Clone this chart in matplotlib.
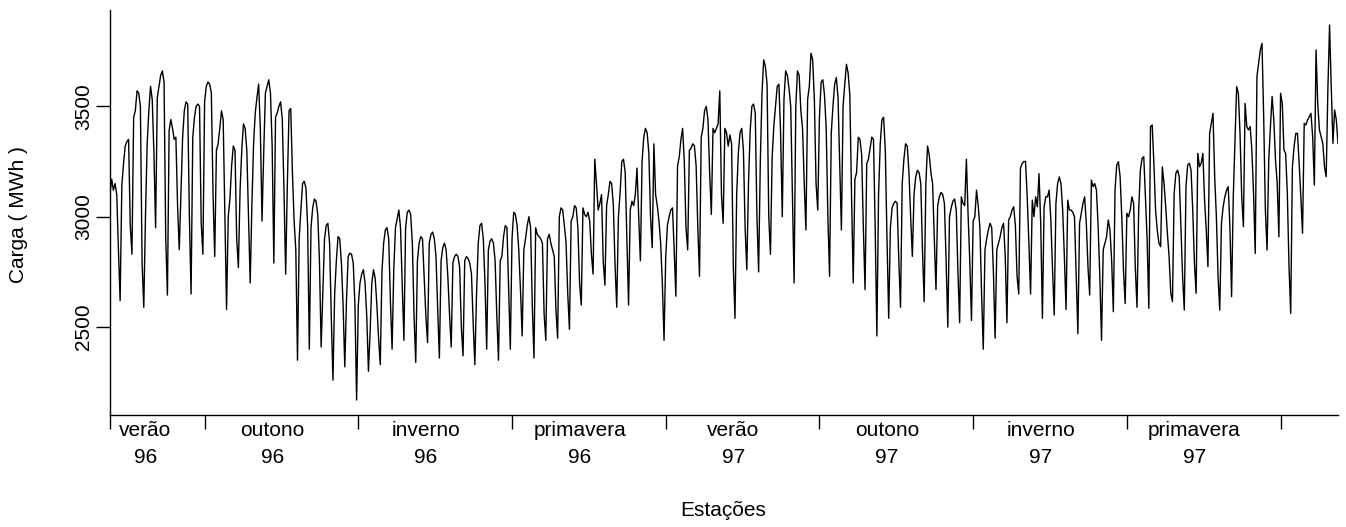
import matplotlib
matplotlib.use("Agg")
import matplotlib.pyplot as plt
import numpy as np

plt.rcParams['font.family'] = ['Liberation Sans', 'DejaVu Sans']

# Daily load (MWh), one row per week (Mon..Sun), 13 weeks per block
semanas_01_13 = [
    3110, 3170, 3120, 3150, 3100, 2850, 2620,
    3140, 3240, 3320, 3340, 3350, 2960, 2830,
    3450, 3480, 3570, 3560, 3500, 2790, 2590,
    3000, 3330, 3480, 3590, 3530, 3290, 2950,
    3540, 3590, 3640, 3660, 3610, 2900, 2645,
    3390, 3440, 3400, 3350, 3360, 3050, 2850,
    3100, 3360, 3480, 3520, 3510, 3000, 2650,
    3360, 3450, 3500, 3510, 3500, 2970, 2830,
    3520, 3590, 3610, 3600, 3560, 3100, 2820,
    3300, 3330, 3400, 3480, 3440, 3000, 2580,
    3000, 3080, 3230, 3320, 3300, 2900, 2770,
    3120, 3300, 3420, 3400, 3300, 3000, 2700,
    3050, 3330, 3470, 3540, 3600, 3400, 2980,
]
semanas_14_26 = [
    3290, 3560, 3590, 3620, 3560, 3320, 2790,
    3450, 3470, 3500, 3520, 3440, 3120, 2740,
    3150, 3480, 3490, 3200, 2980, 2850, 2350,
    2900, 3030, 3150, 3160, 3130, 2960, 2400,
    2950, 3040, 3080, 3070, 3010, 2800, 2410,
    2650, 2900, 2960, 2970, 2880, 2550, 2260,
    2650, 2800, 2910, 2900, 2790, 2600, 2320,
    2620, 2820, 2835, 2830, 2790, 2600, 2170,
    2600, 2700, 2740, 2760, 2700, 2550, 2300,
    2480, 2700, 2760, 2720, 2600, 2450, 2330,
    2750, 2880, 2940, 2950, 2900, 2620, 2400,
    2760, 2950, 2990, 3030, 2950, 2700, 2440,
    2950, 3020, 3030, 3010, 2880, 2550, 2340,
]
semanas_27_39 = [
    2800, 2880, 2910, 2900, 2730, 2550, 2430,
    2880, 2920, 2930, 2900, 2820, 2580, 2360,
    2800, 2860, 2880, 2850, 2730, 2560, 2410,
    2790, 2820, 2830, 2820, 2770, 2500, 2370,
    2800, 2820, 2810, 2790, 2740, 2520, 2330,
    2650, 2880, 2960, 2970, 2900, 2700, 2400,
    2850, 2890, 2900, 2880, 2800, 2550, 2350,
    2800, 2820, 2910, 2960, 2950, 2670, 2400,
    2900, 3020, 3010, 2960, 2850, 2670, 2460,
    2850, 2900, 2960, 3000, 2950, 2600, 2360,
    2950, 2920, 2910, 2900, 2880, 2560, 2440,
    2900, 2920, 2880, 2850, 2820, 2580, 2450,
    3000, 3040, 3030, 2960, 2880, 2650, 2490,
]
semanas_40_52 = [
    2980, 3000, 3050, 3040, 2950, 2700, 2600,
    3040, 3010, 3000, 3020, 2980, 2830, 2740,
    3260, 3150, 3030, 3060, 3100, 2800, 2690,
    3050, 3100, 3160, 3150, 3050, 2780, 2590,
    3000, 3110, 3250, 3260, 3200, 2900, 2600,
    3030, 3070, 3050, 3100, 3220, 3000, 2800,
    3250, 3360, 3400, 3380, 3290, 3000, 2860,
    3330, 3100, 3050, 2980, 2880, 2700, 2440,
    2820, 2960, 3000, 3030, 3040, 2850, 2640,
    3230, 3270, 3350, 3400, 3250, 2950, 2850,
    3300, 3310, 3330, 3320, 3230, 2950, 2730,
    3360, 3400, 3480, 3500, 3440, 3200, 3010,
    3400, 3380, 3400, 3420, 3570, 3100, 2970,
]
semanas_53_65 = [
    3400, 3380, 3320, 3370, 3330, 2780, 2540,
    3100, 3290, 3380, 3400, 3300, 2950, 2760,
    3150, 3390, 3500, 3510, 3470, 3000, 2750,
    3250, 3560, 3710, 3680, 3600, 3000, 2830,
    3270, 3410, 3500, 3590, 3600, 3380, 3000,
    3530, 3660, 3640, 3580, 3500, 3100, 2700,
    3500, 3660, 3640, 3480, 3400, 3150, 2940,
    3530, 3590, 3740, 3710, 3530, 3150, 3030,
    3450, 3610, 3620, 3550, 3400, 3000, 2730,
    3380, 3500, 3600, 3630, 3540, 3230, 2940,
    3500, 3600, 3690, 3650, 3550, 3100, 2700,
    3170, 3200, 3360, 3350, 3280, 2950, 2670,
    3240, 3260, 3310, 3360, 3350, 2950, 2460,
]
semanas_66_78 = [
    3100, 3330, 3440, 3450, 3300, 2900, 2540,
    2950, 3040, 3060, 3070, 3060, 2800, 2590,
    3150, 3260, 3330, 3320, 3200, 3000, 2820,
    3100, 3180, 3210, 3200, 3150, 2850, 2615,
    3150, 3320, 3280, 3200, 3150, 2900, 2670,
    3050, 3090, 3110, 3100, 3060, 2800, 2500,
    3000, 3040, 3070, 3080, 3030, 2750, 2520,
    3090, 3060, 3050, 3260, 3010, 2800, 2530,
    2980, 3000, 3120, 3050, 2950, 2650, 2400,
    2850, 2900, 2940, 2970, 2950, 2750, 2450,
    2850, 2880, 2910, 2950, 2970, 2820, 2520,
    2985, 3000, 3030, 3045, 2960, 2730, 2650,
    3220, 3240, 3250, 3250, 3090, 2880, 2650,
]
semanas_79_91 = [
    3075, 3000, 3090, 3045, 3195, 2970, 2540,
    3045, 3090, 3090, 3120, 2985, 2760, 2555,
    3060, 3150, 3180, 3150, 3030, 2820, 2580,
    3075, 3030, 3030, 3020, 3000, 2730, 2470,
    2970, 3015, 3060, 3090, 2970, 2770, 2645,
    3166, 3136, 3150, 3120, 2955, 2730, 2440,
    2850, 2880, 2910, 2985, 2940, 2800, 2570,
    3120, 3234, 3249, 3181, 3000, 2758, 2607,
    3015, 3000, 3030, 3090, 3060, 2770, 2590,
    3030, 3211, 3264, 3272, 3090, 2894, 2585,
    3408, 3415, 3242, 3030, 2940, 2880, 2864,
    3226, 3150, 3045, 2925, 2819, 2653, 2615,
    3106, 3196, 3211, 3181, 2955, 2728, 2577,
]
semanas_92_104 = [
    3136, 3234, 3242, 3211, 3030, 2790, 2653,
    3287, 3226, 3242, 3287, 3075, 2940, 2774,
    3377, 3423, 3468, 3181, 3000, 2728, 2577,
    2970, 3045, 3090, 3120, 3136, 2955, 2638,
    3090, 3347, 3589, 3559, 3377, 3090, 2955,
    3513, 3408, 3393, 3408, 3302, 3106, 2834,
    3634, 3695, 3755, 3785, 3453, 3030, 2849,
    3257, 3408, 3544, 3438, 3257, 3151, 2909,
    3559, 3513, 3302, 3287, 3106, 2774, 2562,
    3226, 3317, 3377, 3377, 3242, 3090, 2925,
    3423, 3415, 3438, 3453, 3468, 3362, 3143,
    3755, 3513, 3393, 3362, 3332, 3226, 3181,
    3574, 3868, 3589, 3332, 3483, 3438, 3332,
]

divisas_estacoes = [1, 57, 148, 239, 330, 421, 512, 603, 694]
posicao_rotulos = [22, 97, 188, 279, 370, 461, 552, 643]
rotulos_estacoes = ["verão\n96", "outono\n96", "inverno\n96", "primavera\n96",
                    "verão\n97", "outono\n97", "inverno\n97", "primavera\n97"]
yticks = [2500, 3000, 3500]

carga = np.array(semanas_01_13 + semanas_14_26 + semanas_27_39 + semanas_40_52 +
                 semanas_53_65 + semanas_66_78 + semanas_79_91 + semanas_92_104, dtype=float)
dias = np.arange(1, len(carga) + 1)

W, H = 1346, 527
fig = plt.figure(figsize=(W / 100, H / 100), dpi=100)
ax = fig.add_axes([110 / W, 1 - 415 / H, (1338 - 110) / W, (415 - 10) / H])

ax.plot(dias, carga, color='black', lw=1.0)
ax.set_xlim(1, len(carga))
lo, hi = carga.min(), carga.max()
pad = 0.04 * (hi - lo)
ax.set_ylim(lo - pad, hi + pad)

for s in ['top', 'right']:
    ax.spines[s].set_visible(False)
for s in ['left', 'bottom']:
    ax.spines[s].set_linewidth(1.0)

ax.set_yticks(yticks)
ax.set_yticklabels([str(v) for v in yticks], rotation=90, va='center', fontsize=15)
ax.tick_params(axis='y', direction='out', length=10, width=1.0, pad=2)

ax.set_xticks(divisas_estacoes)
ax.set_xticklabels([''] * len(divisas_estacoes))
ax.tick_params(axis='x', which='major', direction='out', length=10, width=1.0)
ax.set_xticks(posicao_rotulos, minor=True)
ax.set_xticklabels(rotulos_estacoes, minor=True, fontsize=15, linespacing=1.55)
ax.tick_params(axis='x', which='minor', length=0, pad=4)

fig.text(723 / W, 1 - 510 / H, 'Estações', ha='center', va='center', fontsize=15)
fig.text(19 / W, 1 - 215 / H, 'Carga ( MWh )', ha='center', va='center',
         rotation=90, fontsize=15)

fig.savefig('out.png', dpi=100)
